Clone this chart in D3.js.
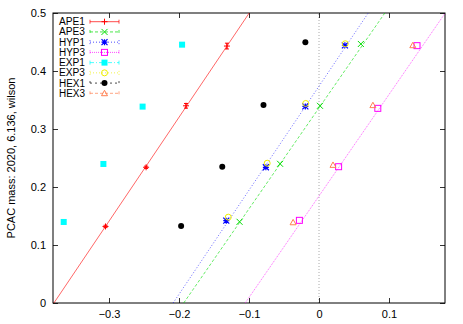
<!DOCTYPE html>
<html lang="en">
<head>
<meta charset="utf-8">
<title>PCAC mass</title>
<style>
  body { margin: 0; background: #fff; }
  svg text { font-family: "Liberation Sans", Arial, sans-serif; font-size: 11px; fill: #000; }
</style>
</head>
<body>
<div id="chart"></div>
<script src="https://cdn.jsdelivr.net/npm/d3@7"></script>
<script>

// series names, in legend order
var names = [ "APE1" , "APE3" , "HYP1" , "HYP3" , "EXP1" , "EXP3" , "HEX1" , "HEX3" ];

// values
var APE1_x = [ -0.305 , -0.247 , -0.190 , -0.1315 ];
var APE1_y = [ 0.132 , 0.234 , 0.340 , 0.443 ];
var APE1_err = [ 0.002 , 0.002 , 0.004 , 0.005 ];
var APE3_x = [ -0.1135 , -0.0556 , 0.0014 , 0.0598 ];
var APE3_y = [ 0.140 , 0.240 , 0.340 , 0.4466 ];
var HYP1_x = [ -0.1325 , -0.0759 , -0.0195 , 0.037 ];
var HYP1_y = [ 0.142 , 0.234 , 0.339 , 0.4443 ];
var HYP3_x = [ -0.028 , 0.028 , 0.084 , 0.140 ];
var HYP3_y = [ 0.1425 , 0.235 , 0.3356 , 0.4437 ];
var EXP1_x = [ -0.3647 , -0.308 , -0.252 , -0.1956 ];
var EXP1_y = [ 0.1397 , 0.2397 , 0.3386 , 0.4454 ];
var EXP3_x = [ -0.1296 , -0.074 , -0.019 , 0.0375 ];
var EXP3_y = [ 0.148 , 0.241 , 0.344 , 0.447 ];
var HEX1_x = [ -0.197 , -0.1382 , -0.0793 , -0.0195 ];
var HEX1_y = [ 0.1328 , 0.235 , 0.3414 , 0.4494 ];
var HEX3_x = [ -0.037 , 0.020 , 0.077 , 0.134 ];
var HEX3_y = [ 0.139 , 0.238 , 0.341 , 0.4443 ];

// linear fits: x where the line crosses zero, and slope
var fit_names = [ "APE1" , "HYP1" , "APE3" , "HYP3" ];
var fit_x0 = [ -0.3787 , -0.2084 , -0.1933 , -0.1054 ];
var fit_slope = [ 1.792 , 1.794 , 1.740 , 1.750 ];

var x_ticks = [ -0.3 , -0.2 , -0.1 , 0 , 0.1 ];
var y_ticks = [ 0 , 0.1 , 0.2 , 0.3 , 0.4 , 0.5 ];
var y_label = "PCAC mass: 2020, 6.136, wilson";

var series_x = { APE1: APE1_x , APE3: APE3_x , HYP1: HYP1_x , HYP3: HYP3_x , EXP1: EXP1_x , EXP3: EXP3_x , HEX1: HEX1_x , HEX3: HEX3_x };
var series_y = { APE1: APE1_y , APE3: APE3_y , HYP1: HYP1_y , HYP3: HYP3_y , EXP1: EXP1_y , EXP3: EXP3_y , HEX1: HEX1_y , HEX3: HEX3_y };

var style = {
    APE1 : { color : "#ff0000" , dash : null ,    marker : "plus" },
    APE3 : { color : "#00dd00" , dash : "3,2" ,   marker : "cross" },
    HYP1 : { color : "#0000ff" , dash : "1,2" ,   marker : "star" },
    HYP3 : { color : "#ff00ff" , dash : "1,1" ,   marker : "osquare" },
    EXP1 : { color : "#00ffff" , dash : "4,2,1,2" , marker : "fsquare" },
    EXP3 : { color : "#eeee00" , dash : "1,2" ,   marker : "ocircle" },
    HEX1 : { color : "#000000" , dash : "2,3" ,   marker : "fcircle" },
    HEX3 : { color : "#ff7f50" , dash : "3,2" ,   marker : "otriangle" }
};

var width = 463 , height = 324;
var margin = { left : 53 , right : 18 , top : 13 , bottom : 21 };

var svg = d3.select( "#chart" ).append( "svg" )
    .attr( "width" , width )
    .attr( "height" , height );

var x = d3.scaleLinear().domain( [ -0.38 , 0.18 ] ).range( [ margin.left , width - margin.right ] );
var y = d3.scaleLinear().domain( [ 0 , 0.5 ] ).range( [ height - margin.bottom , margin.top ] );

svg.append( "defs" ).append( "clipPath" ).attr( "id" , "clip" )
    .append( "rect" )
        .attr( "x" , x.range()[0] ).attr( "y" , y.range()[1] )
        .attr( "width" , x.range()[1] - x.range()[0] )
        .attr( "height" , y.range()[0] - y.range()[1] );

// zero line
svg.append( "line" )
    .attr( "x1" , x( 0 ) ).attr( "x2" , x( 0 ) )
    .attr( "y1" , y( 0 ) ).attr( "y2" , y( 0.5 ) )
    .attr( "stroke" , "#aaa" ).attr( "stroke-width" , 1 )
    .attr( "stroke-dasharray" , "1,2" );

// axes, gnuplot style ticks inside and mirrored
function tick_axis( axis , tr )
{
    var g = svg.append( "g" ).attr( "transform" , tr ).call( axis );
    g.select( ".domain" ).remove();
    g.selectAll( "line" ).attr( "stroke" , "#333" );
    g.selectAll( "text" ).style( "font-size" , "11px" ).attr( "fill" , "#000" );
    return g;
}

tick_axis( d3.axisBottom( x ).tickValues( x_ticks ).tickSizeInner( -5 ).tickPadding( 7 ).tickFormat( d3.format( "" ) ) ,
    "translate(0," + y( 0 ) + ")" );
tick_axis( d3.axisTop( x ).tickValues( x_ticks ).tickSizeInner( -5 ).tickFormat( "" ) ,
    "translate(0," + y( 0.5 ) + ")" );
tick_axis( d3.axisLeft( y ).tickValues( y_ticks ).tickSizeInner( -5 ).tickPadding( 7 ).tickFormat( d3.format( "" ) ) ,
    "translate(" + x( -0.38 ) + ",0)" );
tick_axis( d3.axisRight( y ).tickValues( y_ticks ).tickSizeInner( -5 ).tickFormat( "" ) ,
    "translate(" + x( 0.18 ) + ",0)" );

svg.append( "rect" )
    .attr( "x" , x.range()[0] ).attr( "y" , y.range()[1] )
    .attr( "width" , x.range()[1] - x.range()[0] )
    .attr( "height" , y.range()[0] - y.range()[1] )
    .attr( "fill" , "none" ).attr( "stroke" , "#000" ).attr( "stroke-width" , 1 );

svg.append( "text" )
    .attr( "transform" , "translate(11," + ( ( y.range()[0] + y.range()[1] ) / 2 ) + ") rotate(-90)" )
    .attr( "text-anchor" , "middle" )
    .attr( "dy" , "0.35em" )
    .style( "font-size" , "11px" )
    .text( y_label );

// fit lines
var fits = svg.append( "g" ).attr( "clip-path" , "url(#clip)" );
for( var i=0 ; i<fit_names.length ; i++ )
{
    var s = style[ fit_names[i] ];
    var x_top = fit_x0[i] + 0.5 / fit_slope[i];
    fits.append( "line" )
        .attr( "x1" , x( fit_x0[i] ) ).attr( "y1" , y( 0 ) )
        .attr( "x2" , x( x_top ) ).attr( "y2" , y( 0.5 ) )
        .attr( "stroke" , s.color ).attr( "stroke-opacity" , 0.6 )
        .attr( "stroke-width" , 1 )
        .attr( "stroke-dasharray" , s.dash );
}

function draw_marker( g , kind , cx , cy , color )
{
    var r = 3;
    if( kind == "plus" )
        g.append( "path" ).attr( "d" , "M" + (cx-r) + "," + cy + "H" + (cx+r) + "M" + cx + "," + (cy-r) + "V" + (cy+r) )
            .attr( "stroke" , color ).attr( "stroke-width" , 1 );
    else if( kind == "cross" )
        g.append( "path" ).attr( "d" , "M" + (cx-r) + "," + (cy-r) + "L" + (cx+r) + "," + (cy+r) + "M" + (cx-r) + "," + (cy+r) + "L" + (cx+r) + "," + (cy-r) )
            .attr( "stroke" , color ).attr( "stroke-width" , 1 );
    else if( kind == "star" )
        g.append( "path" ).attr( "d" , "M" + (cx-r) + "," + (cy-r) + "L" + (cx+r) + "," + (cy+r) + "M" + (cx-r) + "," + (cy+r) + "L" + (cx+r) + "," + (cy-r) +
                "M" + (cx-r) + "," + cy + "H" + (cx+r) + "M" + cx + "," + (cy-r) + "V" + (cy+r) )
            .attr( "stroke" , color ).attr( "stroke-width" , 1.2 );
    else if( kind == "osquare" )
        g.append( "rect" ).attr( "x" , cx-r ).attr( "y" , cy-r ).attr( "width" , 2*r ).attr( "height" , 2*r )
            .attr( "fill" , "none" ).attr( "stroke" , color ).attr( "stroke-width" , 1 );
    else if( kind == "fsquare" )
        g.append( "rect" ).attr( "x" , cx-r ).attr( "y" , cy-r ).attr( "width" , 2*r ).attr( "height" , 2*r )
            .attr( "fill" , color );
    else if( kind == "ocircle" )
        g.append( "circle" ).attr( "cx" , cx ).attr( "cy" , cy ).attr( "r" , r )
            .attr( "fill" , "none" ).attr( "stroke" , color ).attr( "stroke-width" , 1 );
    else if( kind == "fcircle" )
        g.append( "circle" ).attr( "cx" , cx ).attr( "cy" , cy ).attr( "r" , r )
            .attr( "fill" , color );
    else if( kind == "otriangle" )
        g.append( "path" ).attr( "d" , "M" + cx + "," + (cy-r) + "L" + (cx+r) + "," + (cy+r*0.8) + "L" + (cx-r) + "," + (cy+r*0.8) + "Z" )
            .attr( "fill" , "none" ).attr( "stroke" , color ).attr( "stroke-width" , 1 );
}

// points
var pts = svg.append( "g" );
names.forEach( function( n )
{
    var s = style[n];
    var xs = series_x[n] , ys = series_y[n];
    for( var i=0 ; i<xs.length ; i++ )
    {
        if( n == "APE1" )
        {
            var e = APE1_err[i];
            var px = x( xs[i] );
            pts.append( "path" )
                .attr( "d" , "M" + px + "," + y( ys[i]-e ) + "V" + y( ys[i]+e ) +
                    "M" + (px-2) + "," + y( ys[i]-e ) + "H" + (px+2) +
                    "M" + (px-2) + "," + y( ys[i]+e ) + "H" + (px+2) )
                .attr( "stroke" , s.color ).attr( "stroke-width" , 1 );
        }
        draw_marker( pts , s.marker , x( xs[i] ) , y( ys[i] ) , s.color );
    }
} );

// legend
var leg = svg.append( "g" );
names.forEach( function( n , i )
{
    var s = style[n];
    var ly = 21.7 + i * 10.23;
    leg.append( "text" ).attr( "x" , 59 ).attr( "y" , ly + 3.5 )
        .style( "font-size" , "10px" )
        .attr( "textLength" , 26 ).attr( "lengthAdjust" , "spacingAndGlyphs" )
        .text( n );
    leg.append( "path" )
        .attr( "d" , "M90," + ly + "H119M90," + (ly-2) + "V" + (ly+2) + "M119," + (ly-2) + "V" + (ly+2) )
        .attr( "stroke" , s.color ).attr( "stroke-width" , 1 )
        .attr( "stroke-opacity" , 0.7 )
        .attr( "stroke-dasharray" , s.dash );
    draw_marker( leg , s.marker , 104.5 , ly , s.color );
} );

</script>
</body>
</html>
